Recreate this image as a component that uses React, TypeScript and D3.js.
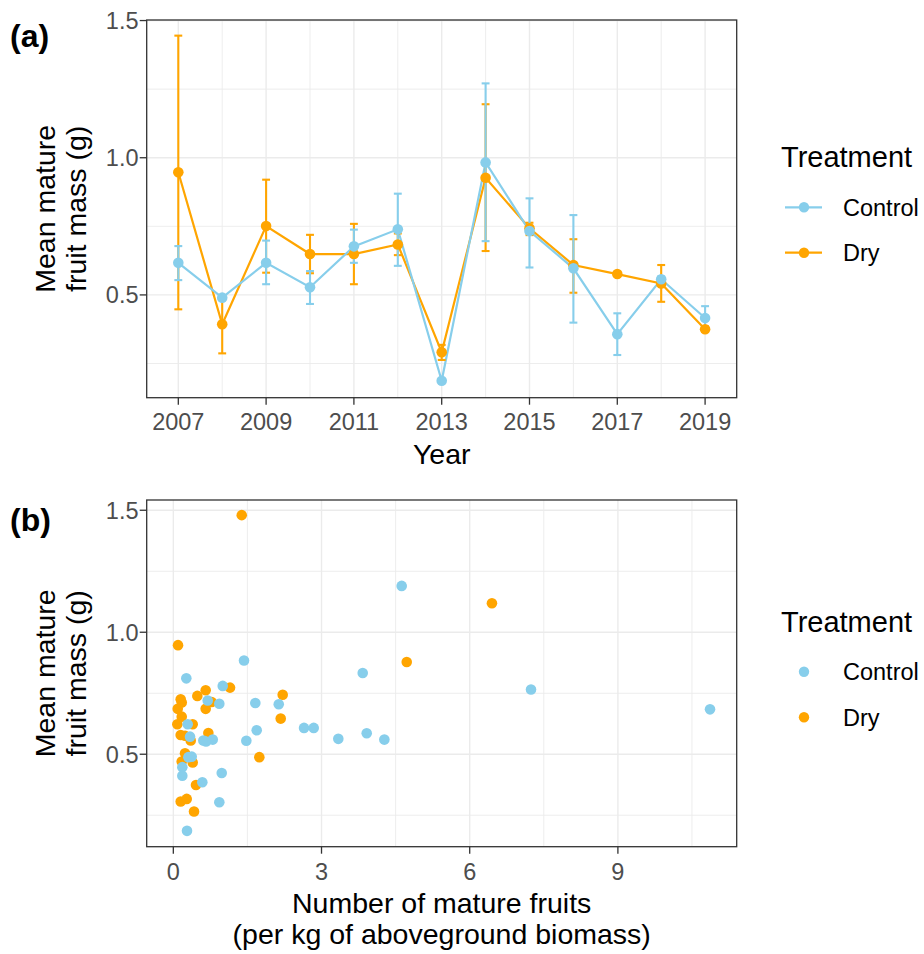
import React from "react";
import * as d3 from "d3";

const years = [2007, 2008, 2009, 2010, 2011, 2012, 2013, 2014, 2015, 2016, 2017, 2018, 2019];
const controlMean = [0.617, 0.49, 0.617, 0.528, 0.677, 0.739, 0.187, 0.983, 0.733, 0.597, 0.357, 0.557, 0.416];
const controlLow = [0.554, 0.485, 0.539, 0.467, 0.617, 0.606, 0.182, 0.696, 0.6, 0.399, 0.281, 0.547, 0.375];
const controlHigh = [0.678, 0.495, 0.698, 0.587, 0.738, 0.869, 0.192, 1.271, 0.852, 0.791, 0.433, 0.567, 0.459];
const dryMean = [0.947, 0.393, 0.751, 0.649, 0.649, 0.684, 0.291, 0.927, 0.743, 0.609, 0.576, 0.542, 0.375];
const dryLow = [0.4475, 0.287, 0.581, 0.579, 0.539, 0.645, 0.263, 0.66, 0.718, 0.508, 0.571, 0.475, 0.365];
const dryHigh = [1.445, 0.496, 0.92, 0.719, 0.759, 0.724, 0.318, 1.195, 0.763, 0.703, 0.581, 0.609, 0.385];

const controlFruits = [1.431, 0.263, 1.0, 0.696, 0.931, 1.66, 2.134, 0.291, 0.338, 0.607, 0.662, 0.798, 1.478, 1.688, 2.646, 2.842, 3.34, 0.304, 0.372, 0.182, 0.182, 0.98, 0.587, 0.931, 0.277, 4.623, 3.834, 3.915, 4.272, 7.241, 10.865];
const controlMass = [0.884, 0.811, 0.78, 0.72, 0.707, 0.71, 0.705, 0.623, 0.572, 0.556, 0.552, 0.56, 0.555, 0.598, 0.608, 0.608, 0.563, 0.488, 0.49, 0.447, 0.412, 0.423, 0.385, 0.303, 0.186, 1.19, 0.833, 0.586, 0.56, 0.765, 0.684];
const dryFruits = [1.385, 0.095, 1.148, 0.655, 0.486, 0.149, 0.17, 0.776, 0.089, 0.655, 0.17, 0.081, 0.392, 0.709, 0.149, 0.237, 0.352, 0.237, 0.17, 0.392, 0.459, 0.149, 0.271, 0.419, 1.741, 2.214, 2.174, 4.725, 6.45];
const dryMass = [1.48, 0.947, 0.773, 0.762, 0.739, 0.725, 0.712, 0.714, 0.686, 0.686, 0.654, 0.623, 0.623, 0.587, 0.579, 0.576, 0.556, 0.504, 0.47, 0.466, 0.374, 0.306, 0.317, 0.265, 0.488, 0.744, 0.646, 0.878, 1.119];

const yearTicks = [2007, 2009, 2011, 2013, 2015, 2017, 2019];
const yearMinor = [2008, 2010, 2012, 2014, 2016, 2018];
const massTicks = [0.5, 1.0, 1.5];
const massMinor = [0.25, 0.75, 1.25];
const fruitTicks = [0, 3, 6, 9];
const fruitMinor = [1.5, 4.5, 7.5, 10.5];

const treatments = ["Control", "Dry"];
const colors: Record<string, string> = { Control: "#87CEEB", Dry: "#FFA500" };

const FONT = "'Liberation Sans', Arial, Helvetica, sans-serif";
const GRID = "#EBEBEB";
const DARK = "#333333";
const TICKTXT = "#4D4D4D";

const L = 146.7, R = 736.7;

export default function App() {
  // Panel (a)
  const aTop = 20, aBot = 397.7;
  const xA = d3.scaleLinear().domain([2006.28, 2019.72]).range([L, R]);
  const yA = d3.scaleLinear().domain([0.1254, 1.502]).range([aBot, aTop]);
  // Panel (b)
  const bTop = 500, bBot = 846.7;
  const xB = d3.scaleLinear().domain([-0.539, 11.405]).range([L, R]);
  const yB = d3.scaleLinear().domain([0.121, 1.542]).range([bBot, bTop]);

  const series = [
    { name: "Dry", mean: dryMean, low: dryLow, high: dryHigh },
    { name: "Control", mean: controlMean, low: controlLow, high: controlHigh },
  ];
  const line = d3
    .line<number>()
    .x((_, i) => xA(years[i]))
    .y((d) => yA(d));

  const scatter = [
    { name: "Dry", xs: dryFruits, ys: dryMass },
    { name: "Control", xs: controlFruits, ys: controlMass },
  ];

  const capHalf = 0.09;

  const yTitle = (cy: number) => (
    <text transform={`translate(0,${cy}) rotate(-90)`} fontSize={28.5} fill="#000" textAnchor="middle">
      <tspan x={0} y={55}>Mean mature</tspan>
      <tspan x={0} y={86}>fruit mass (g)</tspan>
    </text>
  );

  const legend = (titleY: number, keyY: number[], lines: boolean) => (
    <g>
      <text x={781} y={titleY} fontSize={29} fill="#000">Treatment</text>
      {treatments.map((t, i) => (
        <g key={t}>
          {lines && <line x1={785} x2={822} y1={keyY[i]} y2={keyY[i]} stroke={colors[t]} strokeWidth={2.2} />}
          <circle cx={804} cy={keyY[i]} r={5.2} fill={colors[t]} />
          <text x={843} y={keyY[i] + 8.5} fontSize={23.5} fill="#000">{t}</text>
        </g>
      ))}
    </g>
  );

  return (
    <svg width={924} height={954} style={{ position: "absolute", left: 0, top: 0, background: "#fff" }} fontFamily={FONT}>
      <rect x={0} y={0} width={924} height={954} fill="#fff" />
      {/* ---------- Panel (a) ---------- */}
      <g>
        {yearMinor.map((v) => (
          <line key={"am" + v} x1={xA(v)} x2={xA(v)} y1={aTop} y2={aBot} stroke={GRID} strokeWidth={0.9} />
        ))}
        {massMinor.map((v) => (
          <line key={"amy" + v} x1={L} x2={R} y1={yA(v)} y2={yA(v)} stroke={GRID} strokeWidth={0.9} />
        ))}
        {yearTicks.map((v) => (
          <line key={"aM" + v} x1={xA(v)} x2={xA(v)} y1={aTop} y2={aBot} stroke={GRID} strokeWidth={1.4} />
        ))}
        {massTicks.map((v) => (
          <line key={"aMy" + v} x1={L} x2={R} y1={yA(v)} y2={yA(v)} stroke={GRID} strokeWidth={1.4} />
        ))}
        {series.map((s) => (
          <path key={"l" + s.name} d={line(s.mean) || ""} fill="none" stroke={colors[s.name]} strokeWidth={2.2} />
        ))}
        {series.map((s) => (
          <g key={"e" + s.name} stroke={colors[s.name]} strokeWidth={2.1}>
            {years.map((yr, i) => (
              <g key={yr}>
                <line x1={xA(yr)} x2={xA(yr)} y1={yA(s.low[i])} y2={yA(s.high[i])} />
                <line x1={xA(yr - capHalf)} x2={xA(yr + capHalf)} y1={yA(s.low[i])} y2={yA(s.low[i])} />
                <line x1={xA(yr - capHalf)} x2={xA(yr + capHalf)} y1={yA(s.high[i])} y2={yA(s.high[i])} />
              </g>
            ))}
          </g>
        ))}
        {series.map((s) => (
          <g key={"p" + s.name} fill={colors[s.name]}>
            {years.map((yr, i) => (
              <circle key={yr} cx={xA(yr)} cy={yA(s.mean[i])} r={5.3} />
            ))}
          </g>
        ))}
        <rect x={L} y={aTop} width={R - L} height={aBot - aTop} fill="none" stroke={DARK} strokeWidth={1.3} />
        {yearTicks.map((v) => (
          <g key={"at" + v}>
            <line x1={xA(v)} x2={xA(v)} y1={aBot} y2={aBot + 7} stroke={DARK} strokeWidth={1.3} />
            <text x={xA(v)} y={430} textAnchor="middle" fontSize={23.5} fill={TICKTXT}>{v}</text>
          </g>
        ))}
        {massTicks.map((v) => (
          <g key={"aty" + v}>
            <line x1={L - 7} x2={L} y1={yA(v)} y2={yA(v)} stroke={DARK} strokeWidth={1.3} />
            <text x={138.5} y={yA(v)} dy="0.36em" textAnchor="end" fontSize={23.5} fill={TICKTXT}>{d3.format(".1f")(v)}</text>
          </g>
        ))}
        <text x={(L + R) / 2} y={464} textAnchor="middle" fontSize={28.5} fill="#000">Year</text>
        {yTitle((aTop + aBot) / 2)}
        <text x={10} y={47} fontSize={32} fontWeight="bold" fill="#000">(a)</text>
        {legend(166.5, [207.3, 252.7], true)}
      </g>

      {/* ---------- Panel (b) ---------- */}
      <g>
        {fruitMinor.map((v) => (
          <line key={"bm" + v} x1={xB(v)} x2={xB(v)} y1={bTop} y2={bBot} stroke={GRID} strokeWidth={0.9} />
        ))}
        {massMinor.map((v) => (
          <line key={"bmy" + v} x1={L} x2={R} y1={yB(v)} y2={yB(v)} stroke={GRID} strokeWidth={0.9} />
        ))}
        {fruitTicks.map((v) => (
          <line key={"bM" + v} x1={xB(v)} x2={xB(v)} y1={bTop} y2={bBot} stroke={GRID} strokeWidth={1.4} />
        ))}
        {massTicks.map((v) => (
          <line key={"bMy" + v} x1={L} x2={R} y1={yB(v)} y2={yB(v)} stroke={GRID} strokeWidth={1.4} />
        ))}
        {scatter.map((s) => (
          <g key={"s" + s.name} fill={colors[s.name]}>
            {s.xs.map((xv, i) => (
              <circle key={i} cx={xB(xv)} cy={yB(s.ys[i])} r={5.3} />
            ))}
          </g>
        ))}
        <rect x={L} y={bTop} width={R - L} height={bBot - bTop} fill="none" stroke={DARK} strokeWidth={1.3} />
        {fruitTicks.map((v) => (
          <g key={"bt" + v}>
            <line x1={xB(v)} x2={xB(v)} y1={bBot} y2={bBot + 7} stroke={DARK} strokeWidth={1.3} />
            <text x={xB(v)} y={879.5} textAnchor="middle" fontSize={23.5} fill={TICKTXT}>{v}</text>
          </g>
        ))}
        {massTicks.map((v) => (
          <g key={"bty" + v}>
            <line x1={L - 7} x2={L} y1={yB(v)} y2={yB(v)} stroke={DARK} strokeWidth={1.3} />
            <text x={138.5} y={yB(v)} dy="0.36em" textAnchor="end" fontSize={23.5} fill={TICKTXT}>{d3.format(".1f")(v)}</text>
          </g>
        ))}
        <text textAnchor="middle" fontSize={28.5} fill="#000">
          <tspan x={(L + R) / 2} y={912.7}>Number of mature fruits</tspan>
          <tspan x={(L + R) / 2} y={943.5}>(per kg of aboveground biomass)</tspan>
        </text>
        {yTitle((bTop + bBot) / 2)}
        <text x={10} y={530.7} fontSize={32} fontWeight="bold" fill="#000">(b)</text>
        {legend(631.7, [671.7, 717.3], false)}
      </g>
    </svg>
  );
}
